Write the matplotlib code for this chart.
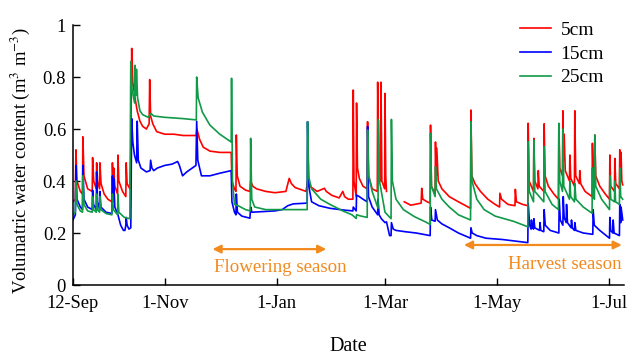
import matplotlib.pyplot as plt
import numpy as np
import pandas as pd

START = pd.Timestamp("2013-09-12")
NAN = float("nan")

# (days after 12-Sep, volumetric water content)
red_5cm = [
    (0, 0.32), (1.3, 0.33), (1.6, 0.52), (2.2, 0.40), (4, 0.36), (5.2, 0.35), (5.4, 0.57),
    (6, 0.42), (8, 0.37), (10.5, 0.36), (10.7, 0.49), (11.3, 0.40), (12.7, 0.37), (12.9, 0.47),
    (13.4, 0.40), (14.5, 0.37), (14.7, 0.47), (15.3, 0.39), (17, 0.35), (19, 0.33), (21.2, 0.32),
    (21.5, 0.47), (21.9, 0.38), (22.2, 0.45), (22.8, 0.38), (24.3, 0.35), (24.5, 0.50), (25, 0.40),
    (27, 0.36), (28.8, 0.34), (29, 0.47), (29.5, 0.39), (31, 0.37), (31.5, 0.50), (32, 0.91),
    (32.6, 0.78), (33.8, 0.72), (35, 0.67), (36.5, 0.63), (38, 0.61), (40, 0.60), (41.5, 0.62),
    (41.8, 0.79), (42.3, 0.65), (43.5, 0.62), (45.6, 0.59), (50, 0.58), (55, 0.58), (60, 0.575),
    (67.2, 0.575), (67.5, 0.60), (69, 0.56), (71, 0.53), (74.6, 0.515), (80, 0.51), (86.2, 0.51),
    (86.6, 0.40), (88, 0.37), (88.8, 0.36), (89, 0.577), (89.5, 0.42), (91, 0.38), (94, 0.365),
    (96.4, 0.36), (96.8, 0.40), (98, 0.38), (100, 0.37), (105, 0.36), (110, 0.355), (116, 0.36),
    (117.8, 0.41), (119, 0.39), (121, 0.375), (127, 0.36), (127.8, 0.40), (129, 0.38), (133, 0.36),
    (137, 0.372), (138, 0.36), (141, 0.345), (145, 0.335), (147, 0.36), (148, 0.34), (150, 0.33),
    (152.5, 0.33), (152.7, 0.75), (153.1, 0.40), (154.3, 0.34), (154.5, 0.70), (155, 0.45),
    (156, 0.41), (158, 0.38), (160.3, 0.37), (160.5, 0.628), (161, 0.42), (163, 0.37), (165.8, 0.36),
    (166, 0.78), (166.6, 0.45), (167.6, 0.40), (167.8, 0.78), (168.3, 0.40), (169.8, 0.37),
    (170, 0.737), (170.4, 0.42), (170.8, 0.36), (171, NAN),
    (180.5, 0.32), (184, 0.307), (189.7, 0.315), (190, 0.372), (190.6, 0.33), (193, 0.32),
    (194.6, 0.315), (194.8, 0.615), (195.3, 0.38), (197.3, 0.35), (197.5, 0.55), (197.9, 0.42),
    (198.2, 0.526), (199, 0.40), (201, 0.37), (205, 0.34), (210, 0.32), (214, 0.305),
    (216.6, 0.295), (216.8, 0.673), (217.3, 0.42), (219, 0.39), (222, 0.36), (226, 0.33),
    (230, 0.31), (232.4, 0.30), (232.6, 0.353), (233.5, 0.33), (237, 0.31), (240.8, 0.305),
    (241, 0.368), (241.6, 0.32), (245, 0.31), (247.8, 0.305), (248, 0.622), (248.5, 0.40),
    (250.9, 0.36), (251.1, 0.564), (251.6, 0.40), (253.3, 0.37), (253.5, 0.44), (254, 0.38),
    (256.5, 0.36), (256.7, 0.62), (257.2, 0.42), (259, 0.38), (262, 0.35), (264.5, 0.33),
    (264.7, 0.62), (265.2, 0.45), (266.7, 0.42), (266.9, 0.67), (267.3, 0.48), (267.6, 0.58),
    (268.2, 0.44), (270.5, 0.40), (270.7, 0.50), (271.2, 0.41), (273.2, 0.38), (273.4, 0.67),
    (273.9, 0.42), (275.9, 0.39), (276.1, 0.44), (276.6, 0.39), (279, 0.36), (282.8, 0.34),
    (283, 0.545), (283.4, 0.42), (284.1, 0.41), (284.3, 0.577), (284.8, 0.42), (287, 0.38),
    (290, 0.35), (292.3, 0.33), (292.5, 0.50), (293, 0.38), (295, 0.36), (295.2, 0.487),
    (295.7, 0.39), (297.7, 0.37), (297.9, 0.52), (298.3, 0.40), (298.6, 0.51), (299, 0.40),
    (299.5, 0.385),
]

blue_15cm = [
    (0, 0.25), (1.3, 0.27), (1.6, 0.46), (2.2, 0.33), (4, 0.30), (5.2, 0.29), (5.4, 0.46),
    (6, 0.33), (8, 0.30), (10.5, 0.29), (10.7, 0.365), (11.2, 0.31), (12.7, 0.29), (12.9, 0.435),
    (13.4, 0.32), (14.5, 0.29), (14.7, 0.36), (15.2, 0.30), (18, 0.28), (21.2, 0.275),
    (21.5, 0.42), (21.9, 0.32), (22.2, 0.41), (22.8, 0.30), (24.5, 0.27), (26, 0.23),
    (27.5, 0.21), (28.3, 0.21), (28.8, 0.23), (29, 0.26), (29.5, 0.23), (30.5, 0.215),
    (31.5, 0.22), (32, 0.64), (32.6, 0.55), (33.5, 0.50), (34.7, 0.47), (35, 0.63), (35.6, 0.48),
    (37, 0.45), (40, 0.435), (42, 0.44), (42.3, 0.48), (43, 0.45), (44, 0.44), (46, 0.45),
    (50, 0.46), (54, 0.465), (57, 0.475), (58, 0.46), (59.7, 0.42), (62, 0.435), (67, 0.46),
    (67.4, 0.63), (68, 0.48), (70, 0.42), (74.6, 0.42), (80, 0.43), (86.2, 0.44), (86.6, 0.32),
    (88, 0.28), (88.8, 0.27), (89, 0.35), (89.6, 0.28), (92, 0.265), (96.4, 0.257), (96.8, 0.30),
    (97.5, 0.28), (105, 0.283), (110, 0.285), (114, 0.29), (117, 0.305), (120, 0.312),
    (127.6, 0.315), (127.8, 0.628), (128.5, 0.38), (130, 0.32), (134, 0.305), (140, 0.295),
    (148, 0.288), (152.5, 0.285), (152.7, 0.30), (154.3, 0.285), (154.5, 0.346), (156, 0.34),
    (158, 0.33), (160.3, 0.32), (160.5, 0.61), (161, 0.34), (163, 0.30), (166, 0.27),
    (166.2, 0.33), (166.8, 0.27), (168, 0.255), (170, 0.24), (170.8, 0.243), (172.5, 0.19),
    (173.3, 0.19), (173.5, 0.24), (174.5, 0.215), (176, 0.21), (181, 0.205), (187, 0.20),
    (194.6, 0.19), (194.8, 0.30), (195.5, 0.25), (197.3, 0.245), (197.5, 0.29), (198.5, 0.25),
    (201, 0.235), (205, 0.22), (210, 0.20), (216.6, 0.18), (216.8, 0.22), (217.5, 0.20),
    (220, 0.19), (225, 0.18), (234, 0.175), (243.5, 0.167), (247.8, 0.163), (248, 0.315),
    (248.8, 0.23), (249.6, 0.215), (249.8, 0.25), (250.3, 0.22), (250.9, 0.215), (251.1, 0.255),
    (251.6, 0.22), (254.2, 0.21), (254.4, 0.24), (254.9, 0.21), (256.5, 0.205), (256.7, 0.29),
    (257.3, 0.23), (260, 0.21), (264.7, 0.20), (264.9, 0.33), (265.5, 0.25), (266.9, 0.23),
    (267.1, 0.34), (267.6, 0.26), (268.7, 0.24), (268.9, 0.31), (269.4, 0.24), (271.4, 0.22),
    (271.6, 0.25), (272, 0.22), (273.2, 0.21), (273.4, 0.24), (274, 0.21), (278, 0.20),
    (283.2, 0.195), (283.4, 0.29), (284, 0.23), (287, 0.21), (292.3, 0.18), (292.5, 0.26),
    (293, 0.21), (294.1, 0.20), (294.3, 0.25), (294.8, 0.20), (297.7, 0.19), (297.9, 0.31),
    (298.4, 0.24), (298.6, 0.30), (299.5, 0.25),
]

green_25cm = [
    (0, 0.27), (1.3, 0.28), (1.6, 0.40), (2.2, 0.31), (4, 0.285), (5.2, 0.28), (5.4, 0.42),
    (6, 0.31), (8, 0.285), (10.5, 0.28), (10.7, 0.34), (11.2, 0.29), (12.7, 0.28), (12.9, 0.35),
    (13.4, 0.29), (14.5, 0.28), (14.7, 0.34), (15.2, 0.29), (18, 0.275), (21.2, 0.27),
    (21.5, 0.35), (22, 0.29), (24.3, 0.27), (24.5, 0.35), (25, 0.28), (28, 0.26), (31, 0.255),
    (31.5, 0.86), (32.2, 0.75), (33.6, 0.70), (33.8, 0.845), (34.3, 0.73), (34.6, 0.83),
    (35.2, 0.72), (36.5, 0.67), (38, 0.655), (41, 0.645), (42.5, 0.66), (44, 0.65), (50, 0.645),
    (60, 0.64), (67.2, 0.635), (67.4, 0.80), (68.2, 0.72), (70.5, 0.665), (74.6, 0.615),
    (80, 0.58), (86.2, 0.55), (86.4, 0.795), (86.9, 0.40), (88, 0.31), (90, 0.305), (94, 0.29),
    (96.6, 0.285), (96.8, 0.564), (97.4, 0.33), (99, 0.30), (105, 0.29), (115, 0.29),
    (127.6, 0.29), (127.8, 0.628), (128.3, 0.42), (130, 0.37), (135, 0.33), (140, 0.31),
    (147, 0.285), (152, 0.27), (154.3, 0.256), (154.5, 0.27), (157, 0.265), (160.3, 0.26),
    (160.5, 0.596), (161.2, 0.42), (163, 0.36), (166.2, 0.295), (166.4, 0.635), (167, 0.40),
    (170, 0.28), (173.3, 0.255), (173.5, 0.637), (174, 0.40), (176, 0.33), (180, 0.29),
    (186, 0.263), (192, 0.243), (194.6, 0.233), (194.8, 0.583), (195.3, 0.38), (197.3, 0.34),
    (197.5, 0.455), (198, 0.37), (201, 0.33), (205, 0.30), (210, 0.27), (216.6, 0.25),
    (216.8, 0.628), (217.4, 0.40), (220, 0.33), (224, 0.29), (230, 0.265), (240, 0.245),
    (247.8, 0.224), (248, 0.551), (248.6, 0.36), (250.9, 0.32), (251.1, 0.557), (251.6, 0.36),
    (256.5, 0.32), (256.7, 0.532), (257.2, 0.36), (261, 0.31), (264.5, 0.29), (264.7, 0.622),
    (265.2, 0.40), (266.7, 0.36), (266.9, 0.60), (267.4, 0.38), (270.5, 0.33), (270.7, 0.40),
    (271.2, 0.34), (273.2, 0.32), (273.4, 0.39), (274, 0.33), (278, 0.30), (282.8, 0.276),
    (283, 0.45), (283.4, 0.34), (284.1, 0.33), (284.3, 0.577), (284.8, 0.38), (288, 0.33),
    (292.3, 0.29), (292.5, 0.42), (293, 0.33), (295, 0.32), (295.2, 0.40), (295.6, 0.32),
    (297.7, 0.31), (297.9, 0.45), (298.4, 0.34), (299.5, 0.33),
]

series = [("5cm", red_5cm, "#ff0000"), ("15cm", blue_15cm, "#0000ff"), ("25cm", green_25cm, "#109a48")]

tick_dates = ["2013-09-12", "2013-11-01", "2014-01-01", "2014-03-01", "2014-05-01", "2014-07-01"]
tick_labels = ["12-Sep", "1-Nov", "1-Jan", "1-Mar", "1-May", "1-Jul"]

flowering = ("2013-11-27", "2014-01-28")
harvest = ("2014-04-13", "2014-07-08")

ORANGE = "#f28a1e"

plt.rcParams["font.family"] = ["Liberation Serif", "DejaVu Serif"]
plt.rcParams["mathtext.fontset"] = "stix"

fig = plt.figure(figsize=(6.4, 3.61), dpi=100)
ax = fig.add_axes([0.114, 0.2105, 0.861, 0.7202])

for name, pts, color in series:
    days = np.array([p[0] for p in pts])
    vals = np.array([p[1] for p in pts])
    dates = START + pd.to_timedelta(days, unit="D")
    ax.plot(dates, vals, color=color, lw=1.2, label=name)

ax.set_xlim(START, START + pd.Timedelta(days=300.2))
ax.set_ylim(0, 1)

ax.set_xticks(pd.to_datetime(tick_dates))
ax.set_xticklabels(tick_labels)
ax.set_yticks([0, 0.2, 0.4, 0.6, 0.8, 1.0])
ax.set_yticklabels(["0", "0.2", "0.4", "0.6", "0.8", "1"])
ax.tick_params(direction="in", length=5, width=1, labelsize=13.3)
ax.tick_params(axis="x", pad=7.5)
ax.tick_params(axis="y", pad=5)

for side in ["top", "right"]:
    ax.spines[side].set_visible(False)
for side in ["left", "bottom"]:
    ax.spines[side].set_linewidth(1.1)

ax.set_xlabel("Date", fontsize=14.5, labelpad=18)
ax.set_ylabel("Volumatric water content (m$^3$ m$^{\\mathrm{-3}}$)", fontsize=13.4)
ax.yaxis.set_label_coords(-0.074, 0.48)

# season arrows
ax.annotate("", xy=(pd.Timestamp(flowering[0]), 0.138), xytext=(pd.Timestamp(flowering[1]), 0.138),
            arrowprops=dict(arrowstyle="<|-|>", color=ORANGE, lw=1.6, mutation_scale=12,
                            shrinkA=0, shrinkB=0))
ax.text(pd.Timestamp("2014-01-03"), 0.069, "Flowering season", color=ORANGE,
        fontsize=13.6, ha="center", va="center")
ax.annotate("", xy=(pd.Timestamp(harvest[0]), 0.154), xytext=(pd.Timestamp(harvest[1]), 0.154),
            arrowprops=dict(arrowstyle="<|-|>", color=ORANGE, lw=1.6, mutation_scale=12,
                            shrinkA=0, shrinkB=0))
ax.text(pd.Timestamp("2014-07-08"), 0.077, "Harvest season", color=ORANGE,
        fontsize=13.6, ha="right", va="center")

ax.legend(loc="upper right", bbox_to_anchor=(0.985, 1.06), frameon=False, fontsize=14,
          handlelength=1.6, handletextpad=0.5, labelspacing=0.32, borderaxespad=0.2)

fig.savefig("out.png", dpi=100)
